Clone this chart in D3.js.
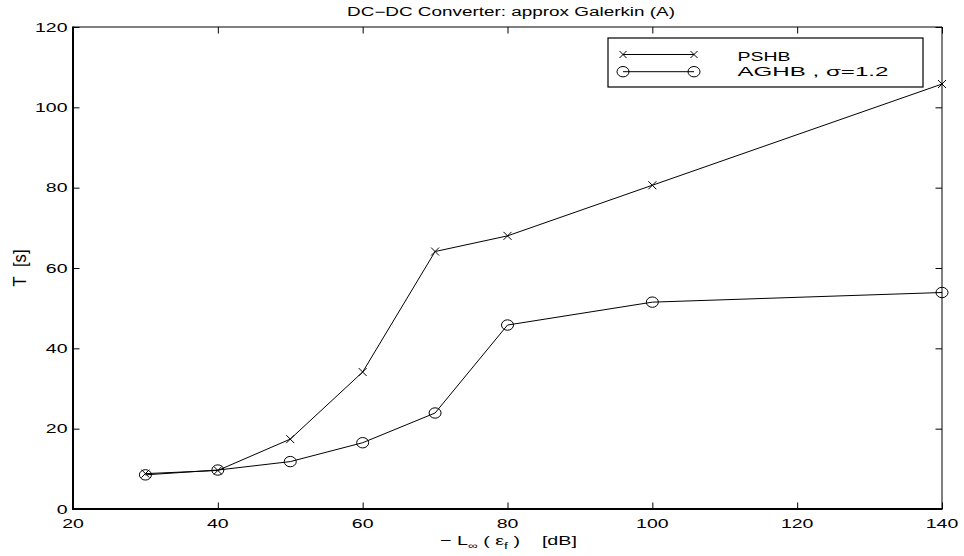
<!DOCTYPE html>
<html><head><meta charset="utf-8">
<script src="https://cdn.jsdelivr.net/npm/d3@7"></script>
<style>body{margin:0;background:#fff}svg{display:block}text{font-family:"Liberation Sans",Arial,sans-serif;fill:#000;white-space:pre}</style>
</head><body><svg id="c" width="964" height="556"></svg>
<script>
const xValues = [30, 40, 50, 60, 70, 80, 100, 140];
const pshb = [8.8, 9.6, 17.4, 34.1, 64.1, 68.0, 80.6, 105.8];
const aghb = [8.5, 9.7, 11.8, 16.5, 23.9, 45.8, 51.5, 53.9];
const xTicks = [20, 40, 60, 80, 100, 120, 140];
const yTicks = [0, 20, 40, 60, 80, 100, 120];
const seriesNames = ["PSHB", "AGHB , σ=1.2"];

const svg = d3.select("#c");
const L = 73, R = 942, T = 27, B = 509;
const x = d3.scaleLinear().domain([20, 140]).range([L, R]);
const y = d3.scaleLinear().domain([0, 120]).range([B, T]);
const fs = 13, sx = 1.5;
const sp = "\u00a0";

// box: thick left/bottom, thin top/right
svg.append("line").attr("x1", L).attr("x2", R).attr("y1", T).attr("y2", T).attr("stroke", "#000").attr("stroke-width", 1);
svg.append("line").attr("x1", R).attr("x2", R).attr("y1", T).attr("y2", B).attr("stroke", "#000").attr("stroke-width", 1);
svg.append("line").attr("x1", L).attr("x2", R + 0.5).attr("y1", B).attr("y2", B).attr("stroke", "#000").attr("stroke-width", 2);
svg.append("line").attr("x1", L).attr("x2", L).attr("y1", T - 0.5).attr("y2", B + 1).attr("stroke", "#000").attr("stroke-width", 2);

const tl = 6.5;
const axes = [
  svg.append("g").attr("transform", `translate(0,${B})`).call(d3.axisBottom(x).tickValues(xTicks).tickSize(-tl).tickFormat("").tickSizeOuter(0)),
  svg.append("g").attr("transform", `translate(0,${T})`).call(d3.axisTop(x).tickValues(xTicks).tickSize(-tl).tickFormat("").tickSizeOuter(0)),
  svg.append("g").attr("transform", `translate(${L},0)`).call(d3.axisLeft(y).tickValues(yTicks).tickSize(-tl).tickFormat("").tickSizeOuter(0)),
  svg.append("g").attr("transform", `translate(${R},0)`).call(d3.axisRight(y).tickValues(yTicks).tickSize(-tl).tickFormat("").tickSizeOuter(0))
];
axes.forEach(g => { g.select(".domain").remove(); g.selectAll(".tick line").attr("stroke", "#000").attr("stroke-width", 1); });

// tick labels (horizontally stretched like the reference)
svg.append("g").selectAll("text").data(xTicks).join("text")
  .attr("transform", d => `translate(${x(d)},527.5) scale(${sx},1)`)
  .attr("text-anchor", "middle").attr("font-size", fs).text(d => d);
svg.append("g").selectAll("text").data(yTicks).join("text")
  .attr("transform", d => `translate(67.5,${y(d) + 4.7}) scale(${sx},1)`)
  .attr("text-anchor", "end").attr("font-size", fs).text(d => d);

const line = d3.line().x((d, i) => x(xValues[i])).y(d => y(d));
function drawX(g, cx, cy, s) {
  s = s || 4;
  g.append("path").attr("d", `M${cx - s},${cy - s}L${cx + s},${cy + s}M${cx - s},${cy + s}L${cx + s},${cy - s}`)
    .attr("stroke", "#000").attr("stroke-width", 1);
}
function drawO(g, cx, cy) {
  g.append("ellipse").attr("cx", cx).attr("cy", cy).attr("rx", 6).attr("ry", 5.2)
    .attr("fill", "none").attr("stroke", "#000").attr("stroke-width", 1);
}
svg.append("path").datum(pshb).attr("d", line).attr("fill", "none").attr("stroke", "#000").attr("stroke-width", 1);
svg.append("path").datum(aghb).attr("d", line).attr("fill", "none").attr("stroke", "#000").attr("stroke-width", 1);
const gm = svg.append("g");
pshb.forEach((v, i) => drawX(gm, x(xValues[i]), y(v)));
aghb.forEach((v, i) => drawO(gm, x(xValues[i]), y(v)));

// legend
const lg = svg.append("g");
lg.append("rect").attr("x", 608).attr("y", 38).attr("width", 315).attr("height", 49)
  .attr("fill", "#fff").attr("stroke", "#000").attr("stroke-width", 1.2);
const legRows = [[54.5, 60.7, 53, (g, a, b) => drawX(g, a, b, 3.5)], [71.7, 76, 151, drawO]];
legRows.forEach(([ly, by, tw, fn], i) => {
  lg.append("line").attr("x1", 623).attr("x2", 694).attr("y1", ly).attr("y2", ly).attr("stroke", "#000");
  fn(lg, 623, ly); fn(lg, 694, ly);
  lg.append("text").attr("x", 737.5).attr("y", by).attr("font-size", fs)
    .attr("textLength", tw).attr("lengthAdjust", "spacingAndGlyphs").text(seriesNames[i]);
});

// title
svg.append("text").attr("x", 511).attr("y", 16).attr("text-anchor", "middle").attr("font-size", 12)
  .attr("textLength", 328).attr("lengthAdjust", "spacingAndGlyphs")
  .text("DC−DC Converter: approx Galerkin (A)");
// y label
svg.append("text").attr("transform", `translate(26,268) scale(1.4,1) rotate(-90)`).attr("text-anchor", "middle")
  .attr("font-size", 12.5).attr("textLength", 37).attr("lengthAdjust", "spacingAndGlyphs").text("T" + sp + sp + "[s]");
// x label
const xl = svg.append("text").attr("x", 440).attr("y", 545).attr("font-size", fs)
  .attr("textLength", 137).attr("lengthAdjust", "spacingAndGlyphs");
xl.append("tspan").text("−" + sp + "L");
xl.append("tspan").attr("font-size", 9).attr("dy", 4).text("∞");
xl.append("tspan").attr("dy", -4).text(sp + "(" + sp + "ε");
xl.append("tspan").attr("font-size", 9).attr("dy", 4).text("f");
xl.append("tspan").attr("dy", -4).text(sp + ")" + sp + sp + sp + sp + "[dB]");
</script></body></html>
